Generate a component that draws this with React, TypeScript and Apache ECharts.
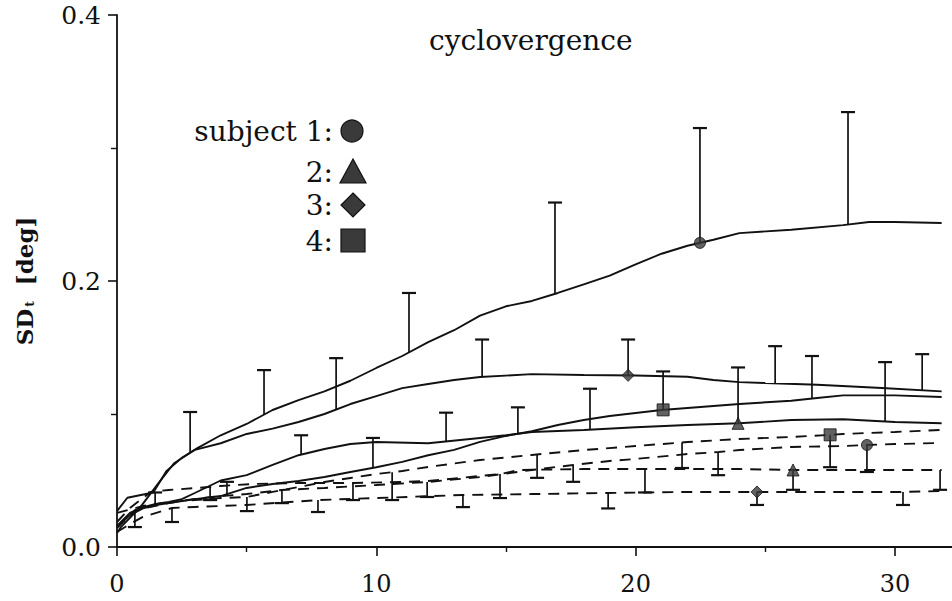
import React, { useEffect, useRef } from "react";
import * as echarts from "echarts";

// ---- data (time [s] vs SD_t [deg]) ----
const titleText = "cyclovergence";
const xTicks = [0, 10, 20, 30];
const xMinorTicks = [5, 15, 25];

// solid curves
const s1Solid: [number, number][] = [[0,0.0105],[0.15,0.015],[0.9,0.030],[1.6,0.048],[2.2,0.063],[3.1,0.0744],[4,0.084],[5,0.0925],[6,0.103],[7,0.1105],[8,0.117],[9,0.125],[10,0.1346],[11,0.1436],[12,0.154],[13,0.163],[14,0.174],[15,0.181],[16,0.185],[17,0.191],[18,0.1975],[19,0.204],[20,0.2125],[21,0.2205],[22,0.2265],[23,0.231],[24,0.236],[26,0.2385],[28,0.242],[29,0.2444],[30,0.2444],[31.8,0.2436]];
const s3Solid: [number, number][] = [[0,0.027],[0.4,0.037],[1.4,0.041],[1.9,0.057],[2.5,0.067],[3,0.073],[4,0.078],[5,0.085],[6,0.089],[7,0.094],[8,0.100],[9,0.1075],[10,0.1135],[11,0.1195],[12,0.1226],[13,0.1256],[14,0.1278],[16,0.130],[18,0.1293],[20,0.129],[22,0.128],[23,0.1256],[24,0.124],[25,0.1233],[27,0.122],[29.5,0.1195],[31.8,0.117]];
const s2Solid: [number, number][] = [[0,0.0158],[0.5,0.0256],[1,0.030],[1.5,0.0323],[2,0.0338],[2.5,0.036],[3,0.0406],[4,0.050],[5,0.054],[6,0.0617],[7,0.069],[8,0.0737],[9,0.0774],[10,0.079],[12,0.078],[14,0.082],[15,0.084],[16,0.0865],[18,0.088],[20,0.090],[22,0.0917],[24,0.093],[26,0.0955],[28,0.096],[30,0.094],[31.8,0.093]];
const s4Solid: [number, number][] = [[0,0.015],[0.5,0.024],[1,0.029],[1.5,0.0316],[2,0.033],[3,0.036],[4,0.0383],[5,0.0444],[6,0.0474],[7,0.0496],[8,0.0526],[9,0.0564],[10,0.060],[11,0.064],[12,0.069],[13,0.073],[14,0.079],[15,0.0835],[16,0.087],[17,0.0917],[18,0.0955],[19,0.0985],[20,0.1008],[21,0.103],[22,0.1045],[24,0.1075],[26,0.110],[27,0.112],[28,0.114],[30,0.114],[31.8,0.1128]];

// dashed curves
const s4Dashed: [number, number][] = [[0,0.0256],[1,0.0308],[2,0.0338],[3,0.0353],[4,0.0368],[5,0.0376],[6,0.0414],[7,0.0451],[8,0.0489],[9,0.0519],[10,0.0549],[11,0.0571],[12,0.0602],[14,0.0654],[16,0.0692],[18,0.0729],[20,0.0759],[22,0.0789],[24,0.0812],[26,0.0827],[27.4,0.0842],[28,0.085],[30,0.0865],[31.8,0.088]];
const s1Dashed: [number, number][] = [[0,0.0143],[0.7,0.0278],[2,0.0331],[3,0.0361],[4,0.0383],[5,0.0398],[6.36,0.0429],[8,0.0444],[10,0.0466],[12,0.0489],[14,0.0526],[16,0.0579],[17.6,0.0617],[19,0.0647],[20,0.0662],[22,0.0699],[23.2,0.0714],[24,0.0729],[26,0.0752],[28,0.0759],[28.9,0.0767],[30,0.0774],[31.8,0.0782]];
const s2Dashed: [number, number][] = [[0,0.0188],[0.5,0.0293],[1.3,0.0414],[2,0.0429],[3.1,0.0444],[4,0.0459],[5.25,0.0474],[7,0.0481],[9.1,0.0481],[11,0.0489],[12,0.0496],[14,0.0534],[14.8,0.0549],[15.5,0.0579],[18,0.0586],[20.4,0.0586],[24,0.0586],[26.1,0.0579],[30,0.0579],[31.8,0.0579]];
const s3Dashed: [number, number][] = [[0,0.0113],[0.5,0.0173],[1,0.0226],[2.12,0.0293],[3,0.0301],[5,0.0316],[7.75,0.0353],[10,0.0368],[13.3,0.0391],[16,0.0398],[18.9,0.0406],[22,0.0414],[24.7,0.0414],[28,0.0414],[30.3,0.0414],[31.8,0.0421]];

// error bars: [x, end value]; solid -> upward, dashed -> downward
const s1SolidBars: [number, number][] = [[5.67,0.133],[11.26,0.191],[16.89,0.259],[22.48,0.315],[28.19,0.327]];
const s3SolidBars: [number, number][] = [[2.82,0.1015],[8.45,0.142],[14.08,0.156],[19.71,0.156],[25.38,0.151],[31.05,0.145]];
const s2SolidBars: [number, number][] = [[1.47,0.041],[7.10,0.084],[12.69,0.101],[18.24,0.119],[23.95,0.135],[29.62,0.139]];
const s4SolidBars: [number, number][] = [[4.24,0.049],[9.87,0.082],[15.46,0.105],[21.06,0.132],[26.80,0.1436]];
const s4DashedBars: [number, number][] = [[5.01,0.027],[10.61,0.0353],[16.20,0.052],[21.79,0.0594],[27.50,0.060]];
const s1DashedBars: [number, number][] = [[0.69,0.015],[6.36,0.033],[11.96,0.0376],[17.59,0.049],[23.18,0.054],[28.92,0.0564]];
const s2DashedBars: [number, number][] = [[3.59,0.0353],[9.10,0.0353],[14.77,0.0368],[20.36,0.041],[26.07,0.043],[31.74,0.043]];
const s3DashedBars: [number, number][] = [[2.12,0.0188],[7.75,0.0263],[13.34,0.030],[18.94,0.029],[24.68,0.0316],[30.31,0.0316]];

// subject marker positions (x) on each curve
const markerX = {
  s1Solid: 22.48, s2Solid: 23.95, s3Solid: 19.71, s4Solid: 21.06,
  s1Dashed: 28.92, s2Dashed: 26.07, s3Dashed: 24.68, s4Dashed: 27.5,
};

const legendLabels = ["subject 1:", "2:", "3:", "4:"];

function interp(curve: [number, number][], x: number): number {
  if (x <= curve[0][0]) return curve[0][1];
  for (let i = 1; i < curve.length; i++) {
    const [x0, y0] = curve[i - 1];
    const [x1, y1] = curve[i];
    if (x <= x1) return y0 + ((y1 - y0) * (x - x0)) / (x1 - x0);
  }
  return curve[curve.length - 1][1];
}

const INK = "#111";
const FILL = "#3a3a3a";
const SERIF = "'DejaVu Serif', 'Liberation Serif', serif";

function lineSeries(name: string, data: [number, number][], dashed: boolean) {
  return {
    type: "line", name, data, showSymbol: false, symbol: "none", silent: true,
    lineStyle: { color: INK, width: 1.9, type: dashed ? [11, 8] : "solid" },
    z: 3,
  };
}

function barSeries(name: string, curve: [number, number][], bars: [number, number][]) {
  return {
    type: "custom", name, silent: true, z: 4,
    data: bars.map(([x, v]) => [x, interp(curve, x), v]),
    renderItem: (params: any, api: any) => {
      const x = api.value(0);
      const p0 = api.coord([x, api.value(1)]);
      const p1 = api.coord([x, api.value(2)]);
      return {
        type: "group",
        children: [
          { type: "line", shape: { x1: p0[0], y1: p0[1], x2: p1[0], y2: p1[1] }, style: { stroke: INK, lineWidth: 1.7 } },
          { type: "line", shape: { x1: p1[0] - 7, y1: p1[1], x2: p1[0] + 7, y2: p1[1] }, style: { stroke: INK, lineWidth: 2.2 } },
        ],
      };
    },
  };
}

function markerSeries(name: string, curve: [number, number][], x: number, symbol: string, size: number) {
  return {
    type: "scatter", name, silent: true, z: 6, symbol, symbolSize: size,
    data: [[x, interp(curve, x)]],
    itemStyle: { color: FILL, borderColor: INK, borderWidth: 1 },
  };
}

export default function App() {
  const ref = useRef<HTMLDivElement>(null);
  useEffect(() => {
    if (!ref.current) return;
    const chart = echarts.init(ref.current, undefined, { renderer: "svg" });
    const lx = 333;
    const legendY = [131, 172, 205, 241];
    const option: any = {
      animation: false,
      backgroundColor: "#fff",
      title: {
        text: titleText, left: 424, top: 21,
        textStyle: { fontFamily: SERIF, fontSize: 28, fontWeight: "normal", color: INK },
      },
      grid: { left: 117, right: 0, top: 15, bottom: 54 },
      xAxis: [
        {
          type: "value", min: 0, max: 32.2, interval: 10,
          axisLine: { show: true, lineStyle: { color: INK, width: 1.8 } },
          axisTick: { show: true, inside: false, length: 9, customValues: xTicks, lineStyle: { color: INK, width: 1.6 } },
          axisLabel: { customValues: xTicks, margin: 25, fontFamily: SERIF, fontSize: 24, color: INK, formatter: (v: number) => String(v) },
          splitLine: { show: false },
        },
        {
          type: "value", min: 0, max: 32.2, position: "bottom",
          axisLine: { show: false },
          axisTick: { show: true, length: 5, customValues: xMinorTicks, lineStyle: { color: INK, width: 1.4 } },
          axisLabel: { show: false },
          splitLine: { show: false },
        },
      ],
      yAxis: {
        type: "value", min: 0, max: 0.4, interval: 0.2,
        axisLine: { show: true, lineStyle: { color: INK, width: 1.8 } },
        axisTick: { show: true, length: 9, lineStyle: { color: INK, width: 1.6 } },
        minorTick: { show: true, splitNumber: 2, length: 6, lineStyle: { color: INK, width: 1.4 } },
        axisLabel: { margin: 16, fontFamily: SERIF, fontSize: 25, color: INK, formatter: (v: number) => v.toFixed(1) },
        splitLine: { show: false },
        minorSplitLine: { show: false },
      },
      graphic: [
        {
          type: "text", x: 24, y: 281, rotation: Math.PI / 2,
          style: {
            text: "{a|SD}{s|t}{a|  [deg]}",
            align: "center", verticalAlign: "middle",
            rich: {
              a: { fontFamily: SERIF, fontSize: 23, fontWeight: "bold", fill: INK },
              s: { fontFamily: SERIF, fontSize: 12, fontWeight: "bold", fill: INK, verticalAlign: "bottom", padding: [0, 0, 0, 2] },
            },
          },
        },
        ...legendLabels.map((t, i) => ({
          type: "text", x: lx, y: legendY[i],
          style: { text: t, align: "right", verticalAlign: "middle", fontFamily: SERIF, fontSize: 28, fill: INK },
        })),
        { type: "circle", shape: { cx: 352, cy: legendY[0], r: 11 }, style: { fill: FILL, stroke: INK, lineWidth: 1.2 } },
        { type: "polygon", shape: { points: [[353, legendY[1] - 13], [340, legendY[1] + 11], [366, legendY[1] + 11]] }, style: { fill: FILL, stroke: INK, lineWidth: 1.2 } },
        { type: "polygon", shape: { points: [[353, legendY[2] - 12], [365, legendY[2]], [353, legendY[2] + 12], [341, legendY[2]]] }, style: { fill: FILL, stroke: INK, lineWidth: 1.2 } },
        { type: "rect", shape: { x: 341, y: legendY[3] - 12, width: 24, height: 23 }, style: { fill: FILL, stroke: INK, lineWidth: 1.2 } },
      ],
      series: [
        lineSeries("subject 1", s1Solid, false),
        lineSeries("subject 2", s2Solid, false),
        lineSeries("subject 3", s3Solid, false),
        lineSeries("subject 4", s4Solid, false),
        lineSeries("subject 1 (dashed)", s1Dashed, true),
        lineSeries("subject 2 (dashed)", s2Dashed, true),
        lineSeries("subject 3 (dashed)", s3Dashed, true),
        lineSeries("subject 4 (dashed)", s4Dashed, true),
        barSeries("sd 1", s1Solid, s1SolidBars),
        barSeries("sd 2", s2Solid, s2SolidBars),
        barSeries("sd 3", s3Solid, s3SolidBars),
        barSeries("sd 4", s4Solid, s4SolidBars),
        barSeries("sd 1d", s1Dashed, s1DashedBars),
        barSeries("sd 2d", s2Dashed, s2DashedBars),
        barSeries("sd 3d", s3Dashed, s3DashedBars),
        barSeries("sd 4d", s4Dashed, s4DashedBars),
        markerSeries("m1", s1Solid, markerX.s1Solid, "circle", 11),
        markerSeries("m2", s2Solid, markerX.s2Solid, "triangle", 12),
        markerSeries("m3", s3Solid, markerX.s3Solid, "diamond", 12),
        markerSeries("m4", s4Solid, markerX.s4Solid, "rect", 12),
        markerSeries("m1d", s1Dashed, markerX.s1Dashed, "circle", 11),
        markerSeries("m2d", s2Dashed, markerX.s2Dashed, "triangle", 12),
        markerSeries("m3d", s3Dashed, markerX.s3Dashed, "diamond", 12),
        markerSeries("m4d", s4Dashed, markerX.s4Dashed, "rect", 12),
      ],
    };
    chart.setOption(option);
    return () => chart.dispose();
  }, []);
  return (
    <div
      ref={ref}
      style={{ position: "fixed", left: 0, top: 0, width: 952, height: 601, background: "#fff" }}
    />
  );
}
